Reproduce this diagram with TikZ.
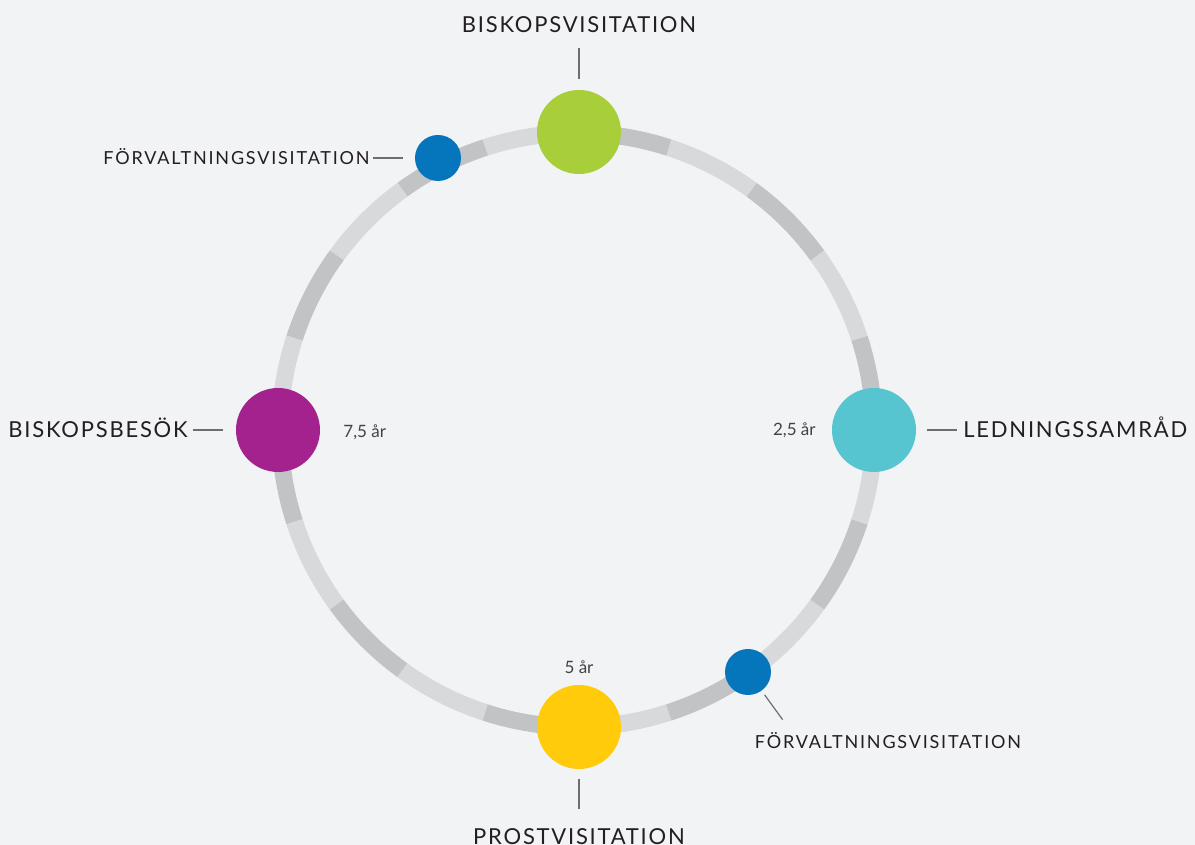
\documentclass[tikz,border=0pt]{standalone}
\usepackage{fontspec}
\setmainfont{Lato}
\newfontfamily\capfont[LetterSpace=8]{Lato}
\newfontfamily\subcapfont[LetterSpace=10]{Lato}
\usepackage{tikz}
\usetikzlibrary{positioning}
\definecolor{bg}{HTML}{F2F3F5}
\definecolor{segA}{HTML}{C2C3C5}
\definecolor{segB}{HTML}{D8D9DB}
\definecolor{ink}{HTML}{231F20}
\definecolor{tickgray}{HTML}{6D6E71}
\definecolor{lime}{HTML}{A8CE3A}
\definecolor{royal}{HTML}{0575BC}
\definecolor{aqua}{HTML}{56C5D0}
\definecolor{plum}{HTML}{A3228D}
\definecolor{sun}{HTML}{FFCB0B}
\tikzstyle{bigdot} = [circle, minimum size=84pt, inner sep=0pt]
\tikzstyle{smalldot} = [circle, minimum size=46pt, inner sep=0pt]
\tikzstyle{caption} = [text=ink, inner sep=0pt, text height=16pt, text depth=0pt, font=\capfont\fontsize{22}{26}\selectfont]
\tikzstyle{subcaption} = [caption, text height=13pt, font=\subcapfont\fontsize{18}{22}\selectfont]
\tikzstyle{yearlabel} = [text=ink!85, inner sep=0pt, text height=12pt, text depth=0pt, font=\fontsize{17}{20}\selectfont]
\tikzstyle{tickline} = [draw=tickgray, line width=1.2pt]

\begin{document}
\begin{tikzpicture}[x=1pt,y=1pt]

\useasboundingbox[fill=bg] (-577,-415) rectangle (618,430);

% ring of 20 segments
\foreach \i in {0,...,19} {
  \pgfmathsetmacro{\a}{18*\i}
  \ifodd\i \def\c{segB}\else \def\c{segA}\fi
  \draw[\c, line width=17pt] (\a:297pt) arc[start angle=\a, delta angle=18, radius=297pt];
}

\node[bigdot, fill=lime] (bisk) at (2,298) {};
\node[smalldot, fill=royal] (fv1) at (-139,272) {};
\node[bigdot, fill=aqua] (led) at (297,0) {};
\node[bigdot, fill=plum] (besok) at (-299,0) {};
\node[bigdot, fill=sun] (prost) at (2,-297) {};
\node[smalldot, fill=royal] (fv2) at (171,-242) {};

\node[caption, above=57pt of bisk] (biskL) {BISKOPSVISITATION};
\node[subcaption, left=45pt of fv1] (fv1L) {FÖRVALTNINGSVISITATION};
\node[caption, left=48pt of besok] (besokL) {BISKOPSBESÖK};
\node[caption, right=47pt of led] (ledL) {LEDNINGSSAMRÅD};
\node[caption, below=59pt of prost] (prostL) {PROSTVISITATION};
\node[subcaption, below=40pt of fv2, xshift=140pt] (fv2L) {FÖRVALTNINGSVISITATION};
\coordinate (fv2tip) at ([shift={(-54:59pt)}]fv2.center);

\node[yearlabel, right=23pt of besok, yshift=-2pt] (y75) {7,5 år};
\node[yearlabel, left=16pt of led] (y25) {2,5 år};
\node[yearlabel, above=11pt of prost] (y5) {5 år};

\path
(bisk) edge [tickline, shorten <=11pt, shorten >=15pt] (biskL)
(fv1) edge [tickline, shorten <=12pt, shorten >=3pt] (fv1L)
(besok) edge [tickline, shorten <=13pt, shorten >=5pt] (besokL)
(led) edge [tickline, shorten <=11pt, shorten >=6pt] (ledL)
(prost) edge [tickline, shorten <=10pt, shorten >=19pt] (prostL)
(fv2) edge [tickline, shorten <=5pt] (fv2tip);

\end{tikzpicture}
\end{document}
